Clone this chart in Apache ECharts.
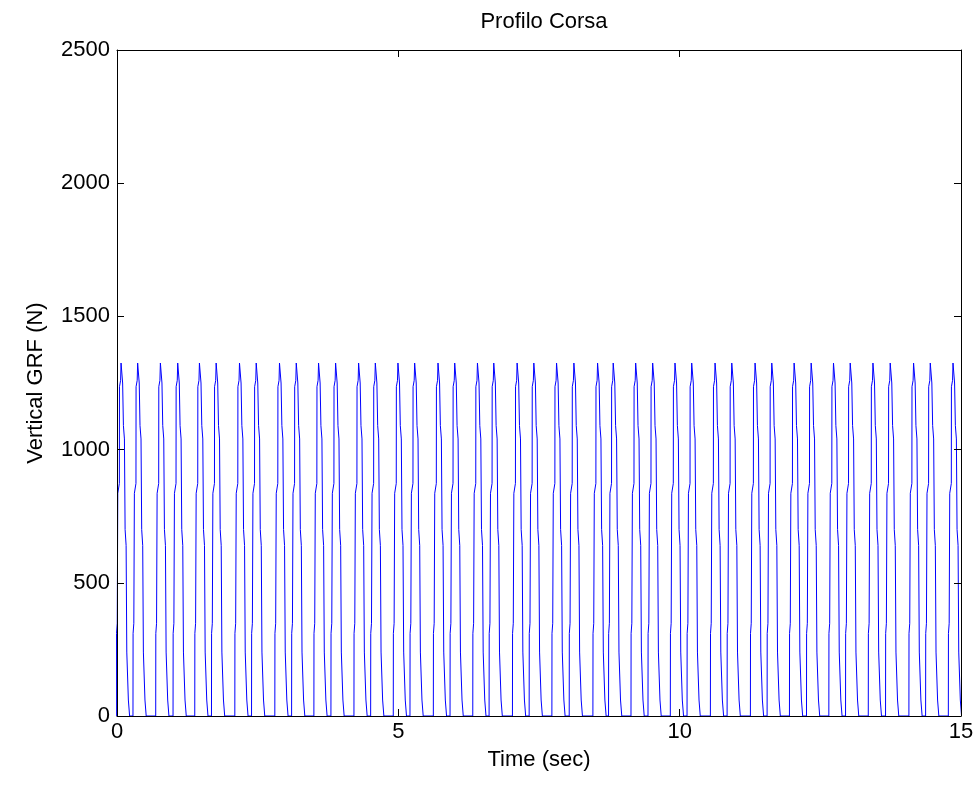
<!DOCTYPE html>
<html>
<head>
<meta charset="utf-8">
<script src="https://cdn.jsdelivr.net/npm/echarts@6/dist/echarts.min.js"></script>
<style>
html,body{margin:0;padding:0;background:#fff;}
#chart{width:978px;height:787px;}
</style>
</head>
<body>
<div id="chart"></div>
<script>
// Time (s) of each force peak
const peakTimes = [
  0.084, 0.379, 0.783, 1.091, 1.477, 1.774, 2.189, 2.486, 2.900, 3.198,
  3.594, 3.897, 4.306, 4.603, 5.005, 5.302, 5.717, 6.014, 6.418, 6.708,
  7.123, 7.420, 7.824, 8.132, 8.553, 8.831, 9.230, 9.532, 9.929, 10.226,
  10.641, 10.938, 11.352, 11.649, 12.046, 12.349, 12.746, 13.043, 13.447, 13.754,
  14.169, 14.466, 14.870
];
// One stance pulse: time offset from its peak (s) and force (N)
const pulseOffsets = [-0.095, -0.093, -0.080, -0.070, -0.042, -0.040, -0.020, -0.012, 0.000, 0.012, 0.016, 0.030, 0.048, 0.060, 0.078, 0.090, 0.118, 0.140];
const pulseValues  = [0,      310,    348,    836,    873,    1236,   1260,   1325,  1325,  1320,  1250,  1090,  1040,  700,   640,   240,   60,    0];

const xTicks = [0, 5, 10, 15];
const yTicks = [0, 500, 1000, 1500, 2000, 2500];

const data = [];
peakTimes.forEach(function (tp) {
  for (let i = 0; i < pulseOffsets.length; i++) {
    data.push([tp + pulseOffsets[i], pulseValues[i]]);
  }
});

const FONT = 'Liberation Sans, Arial, Helvetica, sans-serif';
const FS = 22;

const chart = echarts.init(document.getElementById('chart'), null, {renderer: 'canvas'});
const axisBase = {
  axisLine: {show: true, onZero: false, lineStyle: {color: '#000', width: 1}},
  axisTick: {show: true, inside: true, length: 7, lineStyle: {color: '#000', width: 1}},
  splitLine: {show: false},
  z: 5
};
chart.setOption({
  animation: false,
  backgroundColor: '#fff',
  title: {
    text: 'Profilo Corsa',
    left: 539,
    textAlign: 'center',
    top: 6,
    textStyle: {fontFamily: FONT, fontSize: FS, fontWeight: 'normal', color: '#000'}
  },
  grid: {left: 117, right: 17, top: 50, bottom: 71, containLabel: false},
  xAxis: [
    Object.assign({}, axisBase, {
      type: 'value', min: xTicks[0], max: xTicks[xTicks.length - 1], interval: 5,
      position: 'bottom',
      name: 'Time (sec)', nameLocation: 'middle', nameGap: 33,
      nameTextStyle: {fontFamily: FONT, fontSize: FS, color: '#000'},
      axisLabel: {fontFamily: FONT, fontSize: FS, color: '#000', margin: 5, formatter: function (v) { return String(v); }}
    }),
    Object.assign({}, axisBase, {
      type: 'value', min: xTicks[0], max: xTicks[xTicks.length - 1], interval: 5,
      position: 'top', axisLabel: {show: false}
    })
  ],
  yAxis: [
    Object.assign({}, axisBase, {
      type: 'value', min: yTicks[0], max: yTicks[yTicks.length - 1], interval: 500,
      position: 'left',
      name: 'Vertical GRF (N)', nameLocation: 'middle', nameGap: 70,
      nameTextStyle: {fontFamily: FONT, fontSize: FS, color: '#000'},
      axisLabel: {fontFamily: FONT, fontSize: FS, color: '#000', margin: 7, formatter: function (v) { return String(v); }}
    }),
    Object.assign({}, axisBase, {
      type: 'value', min: yTicks[0], max: yTicks[yTicks.length - 1], interval: 500,
      position: 'right', axisLabel: {show: false}
    })
  ],
  series: [{
    type: 'line',
    data: data,
    xAxisIndex: 0,
    yAxisIndex: 0,
    showSymbol: false,
    symbol: 'none',
    clip: true,
    sampling: null,
    lineStyle: {color: '#0000ff', width: 1},
    itemStyle: {color: '#0000ff'},
    z: 2
  }]
});
</script>
</body>
</html>
